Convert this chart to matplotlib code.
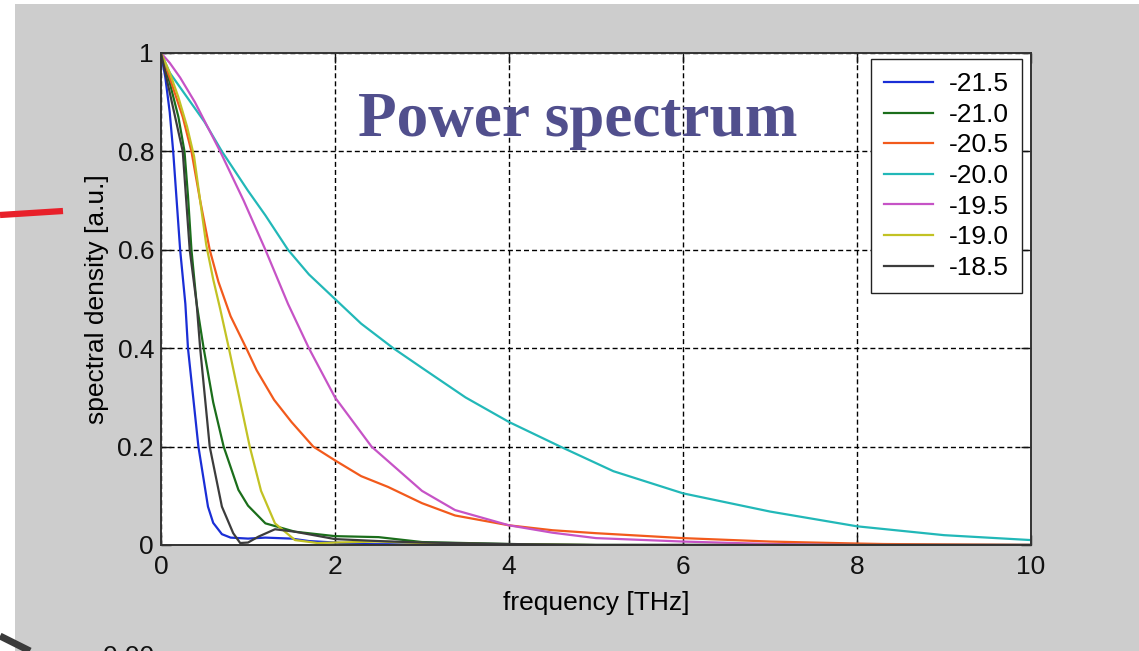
import numpy as np
import matplotlib
matplotlib.use('Agg')
import matplotlib.pyplot as plt
from matplotlib.patches import Rectangle
from matplotlib.lines import Line2D

plt.rcParams['font.family'] = ['Liberation Sans', 'DejaVu Sans']

# spectral density curves, one per setting (label -> frequency / density)
labels = ['-21.5', '-21.0', '-20.5', '-20.0', '-19.5', '-19.0', '-18.5']
colors = ['#1a2ed6', '#1b6e1b', '#f25a1c', '#22b8b8', '#c653c6', '#c2c224', '#3c3c3c']

freq_215 = [0, 0.05, 0.1, 0.14, 0.22, 0.28, 0.31, 0.43, 0.54, 0.6, 0.7, 0.8, 1.0, 1.2, 1.5, 1.7, 2.0, 2.2, 3.0, 4.0, 10.0]
dens_215 = [1, 0.95, 0.88, 0.8, 0.6, 0.49, 0.4, 0.2, 0.078, 0.045, 0.022, 0.015, 0.013, 0.015, 0.013, 0.008, 0.005, 0.002, 0.001, 0.0, 0.0]

freq_210 = [0, 0.05, 0.1, 0.2, 0.27, 0.31, 0.35, 0.41, 0.49, 0.6, 0.72, 0.89, 1.0, 1.2, 1.54, 2.0, 2.5, 2.7, 3.0, 4.0, 5.0, 10.0]
dens_210 = [1, 0.97, 0.94, 0.87, 0.8, 0.71, 0.6, 0.49, 0.4, 0.29, 0.2, 0.112, 0.08, 0.044, 0.027, 0.018, 0.016, 0.012, 0.006, 0.002, 0.0, 0.0]

freq_205 = [0, 0.1, 0.25, 0.35, 0.45, 0.56, 0.66, 0.8, 0.98, 1.1, 1.3, 1.5, 1.75, 2.0, 2.3, 2.61, 3.0, 3.38, 4.0, 4.5, 5.0, 6.0, 7.0, 8.0, 8.3, 10.0]
dens_205 = [1, 0.95, 0.87, 0.8, 0.7, 0.6, 0.535, 0.465, 0.4, 0.355, 0.295, 0.25, 0.2, 0.172, 0.14, 0.118, 0.085, 0.06, 0.04, 0.03, 0.024, 0.014, 0.007, 0.003, 0.002, 0.0]

freq_200 = [0, 0.1, 0.3, 0.5, 0.7, 1.0, 1.2, 1.46, 1.7, 2.0, 2.3, 2.67, 3.0, 3.5, 4.0, 4.59, 5.2, 6.0, 7.0, 8.0, 9.0, 10.0]
dens_200 = [1, 0.96, 0.91, 0.86, 0.8, 0.72, 0.67, 0.6, 0.55, 0.5, 0.45, 0.4, 0.36, 0.3, 0.25, 0.2, 0.15, 0.105, 0.068, 0.038, 0.02, 0.01]

freq_195 = [0, 0.1, 0.22, 0.39, 0.68, 0.95, 1.2, 1.46, 1.7, 2.0, 2.42, 3.0, 3.38, 4.0, 4.5, 5.0, 6.0, 7.0, 8.0, 10.0]
dens_195 = [1, 0.98, 0.95, 0.9, 0.8, 0.7, 0.6, 0.49, 0.4, 0.3, 0.2, 0.11, 0.071, 0.04, 0.025, 0.014, 0.007, 0.002, 0.0, 0.0]

freq_190 = [0, 0.1, 0.2, 0.3, 0.38, 0.45, 0.52, 0.6, 0.68, 0.78, 0.9, 1.02, 1.15, 1.31, 1.54, 1.8, 2.0, 2.5, 3.0, 4.0, 5.0, 10.0]
dens_190 = [1, 0.96, 0.91, 0.85, 0.79, 0.7, 0.61, 0.54, 0.48, 0.4, 0.3, 0.2, 0.11, 0.044, 0.01, 0.004, 0.005, 0.007, 0.004, 0.001, 0.0, 0.0]

freq_185 = [0, 0.05, 0.1, 0.25, 0.33, 0.41, 0.45, 0.56, 0.7, 0.83, 0.91, 1.0, 1.12, 1.31, 1.54, 2.0, 2.5, 3.0, 4.0, 5.0, 10.0]
dens_185 = [1, 0.96, 0.92, 0.8, 0.6, 0.49, 0.4, 0.2, 0.078, 0.024, 0.004, 0.005, 0.017, 0.032, 0.027, 0.012, 0.008, 0.005, 0.002, 0.0, 0.0]

series = [(freq_215, dens_215), (freq_210, dens_210), (freq_205, dens_205),
          (freq_200, dens_200), (freq_195, dens_195), (freq_190, dens_190),
          (freq_185, dens_185)]

x_ticks = [0, 2, 4, 6, 8, 10]
y_ticks = [0, 0.2, 0.4, 0.6, 0.8, 1]
y_tick_labels = ['0', '0.2', '0.4', '0.6', '0.8', '1']

W, H = 1139, 651
fig = plt.figure(figsize=(W / 100, H / 100), dpi=100)
fig.patch.set_facecolor('white')

# grey slide background, kept behind the axes
fig.patches.append(Rectangle((15 / W, 0), 1 - 15 / W, 1 - 4 / H, transform=fig.transFigure,
                             facecolor='#cdcdcd', edgecolor='none', zorder=-10))

# stray strokes around the plot
fig.add_artist(Line2D([0, 63 / W], [1 - 215 / H, 1 - 211 / H], color='#e8202a', lw=4.5,
                      transform=fig.transFigure, solid_capstyle='butt'))
fig.add_artist(Line2D([0, 30 / W], [1 - 636 / H, 0], color='#3a3a3a', lw=5,
                      transform=fig.transFigure, solid_capstyle='butt'))
fig.text(103 / W, -12.5 / H, '0.00', fontsize=19, color='#111111', va='baseline', ha='left')

ax = fig.add_axes([161 / W, 1 - 545 / H, 870 / W, 492 / H])
ax.set_facecolor('white')

for (f, d), c, lab in zip(series, colors, labels):
    ax.plot(f, d, color=c, lw=1.6, label=lab)

ax.set_xlim(0, 10)
ax.set_ylim(0, 1)
ax.set_xticks(x_ticks)
ax.set_xticklabels([str(t) for t in x_ticks])
ax.set_yticks(y_ticks)
ax.set_yticklabels(y_tick_labels)
ax.tick_params(direction='in', length=7, width=1, top=True, right=True,
               labelsize=19, colors='#111111')
ax.tick_params(axis='x', pad=7)
ax.tick_params(axis='y', pad=5)
ax.grid(True, color='black', lw=1, linestyle=(0, (3.6, 2.2)))
for sp in ax.spines.values():
    sp.set_color('#333333')
    sp.set_linewidth(1.4)

ax.set_xlabel('frequency [THz]', fontsize=19, labelpad=9)
ax.set_ylabel('spectral density [a.u.]', fontsize=19, labelpad=6)

leg = ax.legend(loc='upper right', bbox_to_anchor=((1022 - 161) / 870, (545 - 59) / 492),
                borderaxespad=0, fontsize=19, fancybox=False, framealpha=1,
                edgecolor='#222222', labelspacing=0.25, handlelength=1.85,
                handletextpad=0.6, borderpad=0.5)
leg.get_frame().set_linewidth(1)

fig.text(358 / W, 1 - 136 / H, 'Power spectrum', fontsize=45.5, fontweight='bold',
         family=['Liberation Serif', 'DejaVu Serif'], color='#514f8d',
         ha='left', va='baseline')

fig.savefig('out.png', dpi=100, facecolor=fig.get_facecolor())
